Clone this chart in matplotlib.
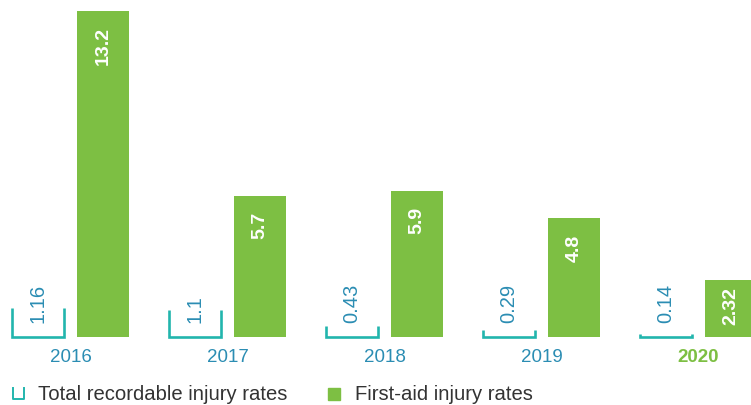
import matplotlib
matplotlib.use("Agg")
import matplotlib.pyplot as plt
from matplotlib.lines import Line2D
from matplotlib.patches import Rectangle

plt.rcParams['font.family'] = ['Liberation Sans', 'DejaVu Sans']

years = ['2016', '2017', '2018', '2019', '2020']
total_recordable = [1.16, 1.1, 0.43, 0.29, 0.14]
first_aid = [13.2, 5.7, 5.9, 4.8, 2.32]
total_labels = ['1.16', '1.1', '0.43', '0.29', '0.14']
first_aid_labels = ['13.2', '5.7', '5.9', '4.8', '2.32']

GREEN = '#7dbf43'
TEAL = '#22b5ad'
BLUE_TXT = '#2b8db3'

W, H = 751, 406
fig = plt.figure(figsize=(W / 100, H / 100), dpi=100)
base_px = 68
ax = fig.add_axes([0, base_px / H, 1, (H - base_px) / H])
px_per_unit = 24.7
ax.set_ylim(0, (H - base_px) / px_per_unit)
period = 157.0
ax.set_xlim(-70.5 / period, (W - 70.5) / period)
ax.axis('off')

off = 32.5 / period
bw = 52 / period

for i, (yr, tv, fv) in enumerate(zip(years, total_recordable, first_aid)):
    # open bracket for the total recordable rate
    xl, xr = i - off - bw / 2, i - off + bw / 2
    ax.plot([xl, xl, xr, xr], [tv, 0, 0, tv], color=TEAL, lw=1.9,
            solid_joinstyle='miter', solid_capstyle='butt', clip_on=False)
    ax.text(i - off, 0.62, total_labels[i], rotation=90, ha='center', va='bottom',
            color=BLUE_TXT, fontsize=14.5)

    # filled bar for first-aid rate
    ax.bar(i + off, fv, width=bw, color=GREEN, linewidth=0)
    pad = 0.6 if fv > 3 else 0.25
    ax.text(i + off, fv - pad, first_aid_labels[i], rotation=90, ha='center', va='top',
            color='white', fontsize=14, fontweight='bold')

    last = i == len(years) - 1
    ax.text(i, -20 / px_per_unit, yr, ha='center', va='center', clip_on=False,
            color=GREEN if last else BLUE_TXT, fontsize=13.5,
            fontweight='bold' if last else 'normal')

# legend
ly = 1 - 395 / H
fig.add_artist(Line2D([13 / W, 13 / W, 24 / W, 24 / W],
                      [1 - 389 / H, 1 - 400 / H, 1 - 400 / H, 1 - 389 / H],
                      color=TEAL, lw=1.4, transform=fig.transFigure))
fig.text(38 / W, ly, 'Total recordable injury rates', ha='left', va='center',
         fontsize=14.6, color='#333333')
fig.add_artist(Rectangle((328 / W, 1 - 401 / H), 12 / W, 12 / H, color=GREEN,
                         transform=fig.transFigure))
fig.text(355 / W, ly, 'First-aid injury rates', ha='left', va='center',
         fontsize=14.6, color='#333333')

fig.savefig('out.png', dpi=100)
